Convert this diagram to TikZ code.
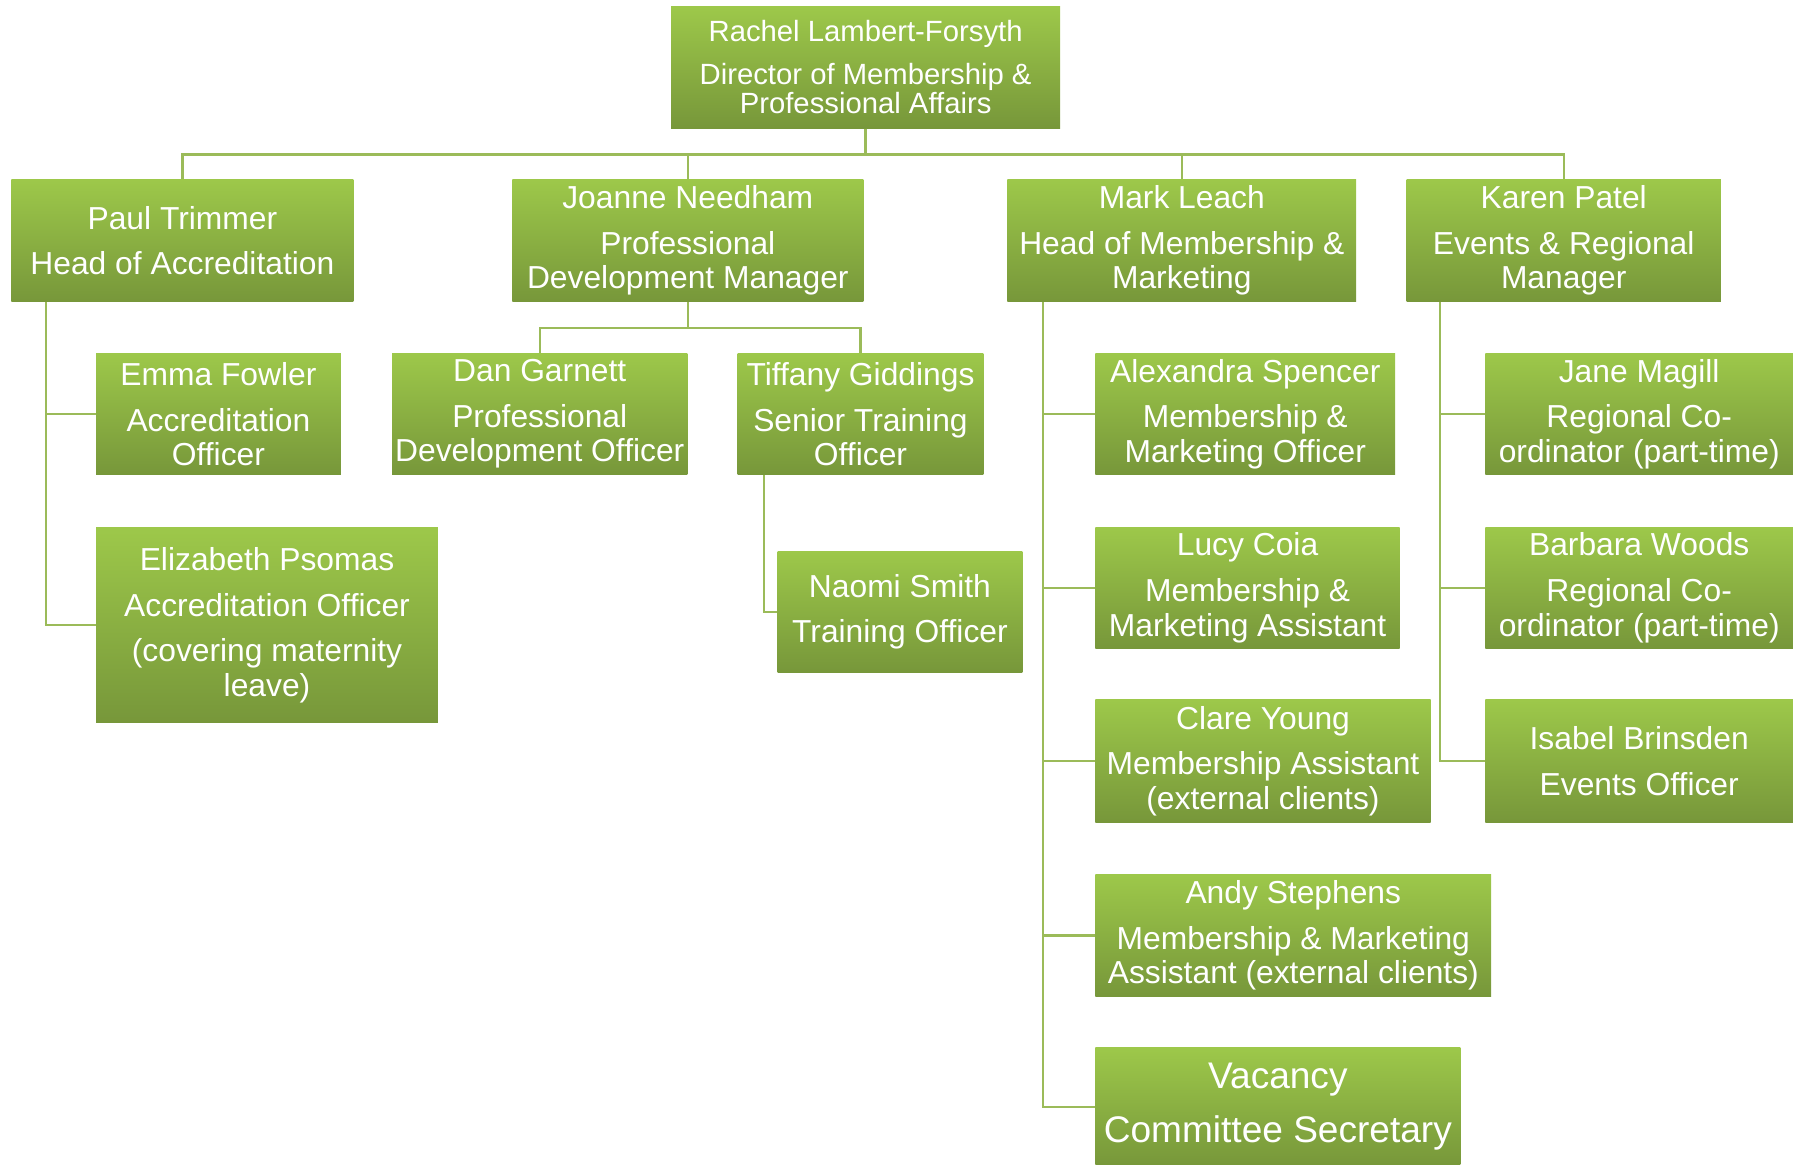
\documentclass[tikz,border=0pt]{standalone}
\usepackage{fontspec}
\setmainfont{Liberation Sans}
\definecolor{boxtop}{HTML}{9DC84A}
\definecolor{boxbot}{HTML}{77973A}
\definecolor{connc}{HTML}{9BBB59}
\tikzset{
  box/.style={rectangle, inner sep=0pt, top color=boxtop, bottom color=boxbot,
    text=white, align=center, font=\fontsize{13.9}{15}\selectfont},
  conn/.style={draw=connc, line width=1pt}
}
\begin{document}
\begin{tikzpicture}[x=0.5pt,y=-0.5pt]
\useasboundingbox (0,0) rectangle (1568,1018);
% top
\node[box, minimum width=170pt, minimum height=53pt, font=\fontsize{12.8}{13}\selectfont] (rachel) at (757,59)
  {Rachel Lambert-Forsyth\\[5.5pt]Director of Membership \&\\Professional Affairs};
% heads
\node[box, minimum width=149.5pt, minimum height=53.5pt] (paul) at (159.5,210.5)
  {Paul Trimmer\\[5pt]Head of Accreditation};
\node[box, minimum width=153.5pt, minimum height=53.5pt] (joanne) at (601.5,210.5)
  {Joanne Needham\\[5pt]Professional\\Development Manager};
\node[box, minimum width=152.5pt, minimum height=53.5pt] (mark) at (1033.5,210.5)
  {Mark Leach\\[5pt]Head of Membership \&\\Marketing};
\node[box, minimum width=137.5pt, minimum height=53.5pt] (karen) at (1367.5,210.5)
  {Karen Patel\\[5pt]Events \& Regional\\Manager};
% Paul's team
\node[box, minimum width=107pt, minimum height=53pt] (emma) at (191,362)
  {Emma Fowler\\[5pt]Accreditation\\Officer};
\node[box, minimum width=149.5pt, minimum height=85.5pt] (eliz) at (233.5,546.5)
  {Elizabeth Psomas\\[5pt]Accreditation Officer\\[5pt](covering maternity\\leave)};
% Joanne's team
\node[box, minimum width=129pt, minimum height=53pt] (dan) at (472,362)
  {Dan Garnett\\[5pt]Professional\\Development Officer};
\node[box, minimum width=107.5pt, minimum height=53pt] (tiffany) at (752.5,362)
  {Tiffany Giddings\\[5pt]Senior Training\\Officer};
\node[box, minimum width=107pt, minimum height=53pt] (naomi) at (787,535)
  {Naomi Smith\\[5pt]Training Officer};
% Mark's team
\node[box, minimum width=131pt, minimum height=53pt] (alex) at (1089,362)
  {Alexandra Spencer\\[5pt]Membership \&\\Marketing Officer};
\node[box, minimum width=133pt, minimum height=53pt] (lucy) at (1091,514)
  {Lucy Coia\\[5pt]Membership \&\\Marketing Assistant};
\node[box, minimum width=146.5pt, minimum height=53.5pt] (clare) at (1104.5,665.5)
  {Clare Young\\[5pt]Membership Assistant\\(external clients)};
\node[box, minimum width=173pt, minimum height=53pt] (andy) at (1131,818)
  {Andy Stephens\\[5pt]Membership \& Marketing\\Assistant (external clients)};
\node[box, minimum width=159.5pt, minimum height=52pt, font=\fontsize{16.2}{18.5}\selectfont] (vacancy) at (1117.5,968)
  {Vacancy\\[5pt]Committee Secretary};
% Karen's team
\node[box, minimum width=134.5pt, minimum height=53pt] (jane) at (1433.5,362)
  {Jane Magill\\[5pt]Regional Co-\\ordinator (part-time)};
\node[box, minimum width=134.5pt, minimum height=53pt] (barbara) at (1433.5,514)
  {Barbara Woods\\[5pt]Regional Co-\\ordinator (part-time)};
\node[box, minimum width=134.5pt, minimum height=53.5pt] (isabel) at (1433.5,665.5)
  {Isabel Brinsden\\[5pt]Events Officer};
% connectors
\coordinate (bus) at (757,135);
\draw[conn] (rachel.south) -- (bus);
\draw[conn] (paul.north) |- (bus);
\draw[conn] (joanne.north) |- (bus);
\draw[conn] (mark.north) |- (bus);
\draw[conn] (karen.north) |- (bus);
\coordinate (paulL) at (40,264);
\draw[conn] (paulL) |- (emma.west);
\draw[conn] (paulL) |- (eliz.west);
\coordinate (jbus) at (601.5,287);
\draw[conn] (joanne.south) -- (jbus);
\draw[conn] (dan.north) |- (jbus);
\draw[conn] (tiffany.north) |- (jbus);
\coordinate (tL) at (668,415);
\draw[conn] (tL) |- (naomi.west);
\coordinate (markL) at (912,264);
\draw[conn] (markL) |- (alex.west);
\draw[conn] (markL) |- (lucy.west);
\draw[conn] (markL) |- (clare.west);
\draw[conn] (markL) |- (andy.west);
\draw[conn] (markL) |- (vacancy.west);
\coordinate (karenL) at (1259,264);
\draw[conn] (karenL) |- (jane.west);
\draw[conn] (karenL) |- (barbara.west);
\draw[conn] (karenL) |- (isabel.west);
\end{tikzpicture}
\end{document}
